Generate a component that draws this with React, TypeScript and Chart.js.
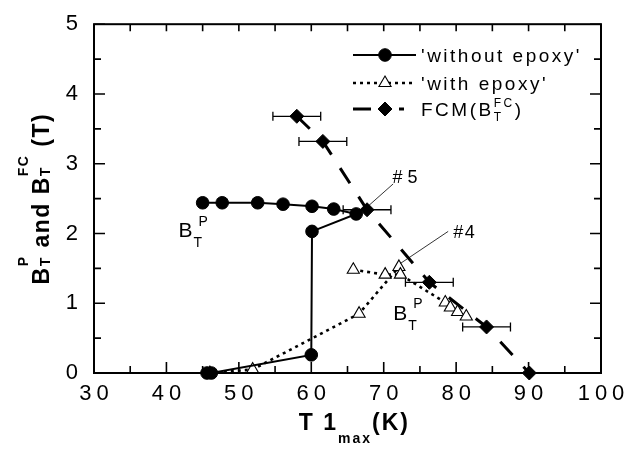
import React, { useEffect, useRef } from "react";
import { Chart, registerables } from "chart.js";

Chart.register(...registerables);

// ---------------- data ----------------
// 'without epoxy' (filled circles, solid line), in plotting order
const withoutEpoxyT = [45.0, 47.7, 52.6, 56.1, 60.1, 63.1, 66.2, 60.1, 60.0, 46.2, 45.6];
const withoutEpoxyB = [2.44, 2.44, 2.44, 2.42, 2.39, 2.35, 2.28, 2.03, 0.26, 0.0, 0.0];

// 'with epoxy' (open triangles, dotted line) – two branches
const withEpoxyT1 = [65.8, 70.2, 72.3, 78.5, 79.2, 80.2, 81.4];
const withEpoxyB1 = [1.48, 1.41, 1.41, 1.01, 0.94, 0.875, 0.81];
const withEpoxyT2 = [46.0, 51.9, 66.6, 72.1];
const withEpoxyB2 = [0.0, 0.05, 0.85, 1.52];

// FCM(B_T^FC) (filled diamonds, long dashed line) with horizontal error bars
const fcmT = [58.0, 61.6, 67.7, 76.3, 84.2, 90.1];
const fcmB = [3.68, 3.32, 2.34, 1.3, 0.66, 0.0];
const fcmErr = [3.3, 3.3, 3.3, 3.3, 3.3, 0];

// axis ticks
const xTickValues = [30, 40, 50, 60, 70, 80, 90, 100];
const xMinorTicks = [35, 45, 55, 65, 75, 85, 95];
const yTickValues = [0, 1, 2, 3, 4, 5];
const yMinorTicks = [0.5, 1.5, 2.5, 3.5, 4.5];

// annotations
const labelBP = [
  { x: 41.66, y: 1.944 },
  { x: 71.31, y: 0.764 },
];
const sampleMarks = [
  { text: "# 5", from: { x: 67.5, y: 2.36 }, to: { x: 71.3, y: 2.71 }, at: { x: 71.2, y: 2.72 } },
  { text: "#4", from: { x: 72.3, y: 1.57 }, to: { x: 78.9, y: 2.03 }, at: { x: 79.6, y: 1.93 } },
];

const FAMILY = "'Liberation Sans', Arial, Helvetica, sans-serif";

type Run =
  | { text: string; size: number; dy?: number }
  | { stack: true; size: number; sub?: string; sup?: string; subDy: number; supDy: number; subDx?: number; supDx?: number };

function rich(ctx: CanvasRenderingContext2D, x: number, y: number, runs: Run[], weight: string, draw: boolean) {
  let cx = x;
  for (const r of runs) {
    ctx.font = `${weight} ${r.size}px ${FAMILY}`;
    if ("stack" in r) {
      let w = 0;
      if (r.sub) {
        const dx = r.subDx || 0;
        if (draw) ctx.fillText(r.sub, cx + dx, y + r.subDy);
        w = Math.max(w, ctx.measureText(r.sub).width + dx);
      }
      if (r.sup) {
        const dx = r.supDx || 0;
        if (draw) ctx.fillText(r.sup, cx + dx, y + r.supDy);
        w = Math.max(w, ctx.measureText(r.sup).width + dx);
      }
      cx += w;
    } else {
      if (draw) ctx.fillText(r.text, cx, y + (r.dy || 0));
      cx += ctx.measureText(r.text).width;
    }
  }
  return cx - x;
}

function drawMarker(ctx: CanvasRenderingContext2D, d: any, x: number, y: number) {
  ctx.save();
  ctx.fillStyle = d.pointBackgroundColor;
  ctx.strokeStyle = d.pointBorderColor;
  ctx.lineWidth = d.pointBorderWidth;
  ctx.setLineDash([]);
  const r = d.pointRadius;
  ctx.beginPath();
  if (d.pointStyle === "circle") {
    ctx.arc(x, y, r, 0, Math.PI * 2);
  } else if (d.pointStyle === "triangle") {
    ctx.moveTo(x, y - r);
    ctx.lineTo(x + (Math.sqrt(3) / 2) * r, y + r / 2);
    ctx.lineTo(x - (Math.sqrt(3) / 2) * r, y + r / 2);
    ctx.closePath();
  } else {
    ctx.moveTo(x, y - r);
    ctx.lineTo(x + r, y);
    ctx.lineTo(x, y + r);
    ctx.lineTo(x - r, y);
    ctx.closePath();
  }
  ctx.fill();
  ctx.stroke();
  ctx.restore();
}

const customPlugin = {
  id: "custom",
  beforeDraw(chart: any) {
    (chart.ctx as any).letterSpacing = "5px";
  },
  beforeDatasetsDraw(chart: any) {
    const ctx: CanvasRenderingContext2D = chart.ctx;
    const xs = chart.scales.x;
    const ys = chart.scales.y;
    ctx.save();
    ctx.strokeStyle = "#000";
    ctx.lineWidth = 1.3;
    fcmT.forEach((t, i) => {
      const e = fcmErr[i];
      if (!e) return;
      const y = ys.getPixelForValue(fcmB[i]);
      const x1 = xs.getPixelForValue(t - e);
      const x2 = xs.getPixelForValue(t + e);
      ctx.beginPath();
      ctx.moveTo(x1, y);
      ctx.lineTo(x2, y);
      ctx.moveTo(x1, y - 4.5);
      ctx.lineTo(x1, y + 4.5);
      ctx.moveTo(x2, y - 4.5);
      ctx.lineTo(x2, y + 4.5);
      ctx.stroke();
    });
    ctx.restore();
  },
  afterDatasetsDraw(chart: any) {
    const ctx: CanvasRenderingContext2D = chart.ctx;
    const xs = chart.scales.x;
    const ys = chart.scales.y;
    ctx.save();
    (ctx as any).letterSpacing = "0px";
    ctx.fillStyle = "#000";
    ctx.strokeStyle = "#000";
    ctx.textAlign = "left";
    ctx.textBaseline = "alphabetic";
    labelBP.forEach((p) => {
      const x = xs.getPixelForValue(p.x);
      const y = ys.getPixelForValue(p.y);
      rich(
        ctx,
        x,
        y,
        [
          { text: "B", size: 21 },
          { stack: true, size: 14, sub: "T", sup: "P", subDy: 10, supDy: -11.5, subDx: 1, supDx: 6 },
        ],
        "normal",
        true
      );
    });
    sampleMarks.forEach((m) => {
      ctx.lineWidth = 0.8;
      ctx.beginPath();
      ctx.moveTo(xs.getPixelForValue(m.from.x), ys.getPixelForValue(m.from.y));
      ctx.lineTo(xs.getPixelForValue(m.to.x), ys.getPixelForValue(m.to.y));
      ctx.stroke();
      ctx.font = `normal 18px ${FAMILY}`;
      (ctx as any).letterSpacing = m.text === "#4" ? "1.5px" : "0px";
      ctx.fillText(m.text, xs.getPixelForValue(m.at.x), ys.getPixelForValue(m.at.y));
      (ctx as any).letterSpacing = "0px";
    });
    ctx.restore();
  },
  afterDraw(chart: any) {
    const ctx: CanvasRenderingContext2D = chart.ctx;
    const xs = chart.scales.x;
    const ys = chart.scales.y;
    const { left, right, top, bottom } = chart.chartArea;
    ctx.save();
    (ctx as any).letterSpacing = "0px";
    ctx.strokeStyle = "#000";
    ctx.fillStyle = "#000";
    // inward ticks on all four sides
    ctx.lineWidth = 1.6;
    ctx.beginPath();
    const xAll = [...xTickValues.map((v) => [v, 1]), ...xMinorTicks.map((v) => [v, 0])];
    xAll.forEach(([v, maj]) => {
      const x = xs.getPixelForValue(v);
      const len = maj ? 11 : 7;
      ctx.moveTo(x, bottom);
      ctx.lineTo(x, bottom - len);
      ctx.moveTo(x, top);
      ctx.lineTo(x, top + 7);
    });
    const yAll = [...yTickValues.map((v) => [v, 1]), ...yMinorTicks.map((v) => [v, 0])];
    yAll.forEach(([v, maj]) => {
      const y = ys.getPixelForValue(v);
      const len = maj ? 11 : 7;
      ctx.moveTo(left, y);
      ctx.lineTo(left + len, y);
      ctx.moveTo(right, y);
      ctx.lineTo(right - len, y);
    });
    ctx.stroke();
    ctx.lineWidth = 2;
    ctx.strokeRect(left, top, right - left, bottom - top);

    ctx.textAlign = "left";
    ctx.textBaseline = "alphabetic";

    // x title: T 1_max (K)
    (ctx as any).letterSpacing = "2px";
    const xRuns: Run[] = [
      { text: "T 1", size: 23 },
      { text: "max", size: 14, dy: 13 },
      { text: "(K)", size: 23 },
    ];
    const wx = rich(ctx, 0, 0, xRuns, "bold", false);
    rich(ctx, 410 - wx, 430, xRuns, "bold", true);

    // y title: B_T^P and B_T^FC (T)
    (ctx as any).letterSpacing = "1.5px";
    const yRuns: Run[] = [
      { text: "B", size: 23 },
      { stack: true, size: 14, sub: "T", sup: "P", subDy: 1, supDy: -21 },
      { text: " and ", size: 23 },
      { text: "B", size: 23 },
      { stack: true, size: 14, sub: "T", sup: "FC", subDy: 1, supDy: -21 },
      { text: " (T)", size: 23 },
    ];
    const wy = rich(ctx, 0, 0, yRuns, "bold", false);
    ctx.save();
    ctx.translate(49, (top + bottom) / 2 + wy / 2);
    ctx.rotate(-Math.PI / 2);
    rich(ctx, 0, 0, yRuns, "bold", true);
    ctx.restore();

    // legend
    const ds = chart.data.datasets;
    const lx1 = 353;
    const lx2 = 416;
    const lxm = 385;
    const rows = [
      { y: 55, d: ds[0], label: "'without epoxy'" },
      { y: 83, d: ds[1], label: "'with epoxy'" },
      { y: 109, d: ds[3], label: null as string | null },
    ];
    rows.forEach((r, i) => {
      ctx.save();
      (ctx as any).letterSpacing = "0px";
      ctx.strokeStyle = "#000";
      ctx.lineWidth = r.d.borderWidth;
      ctx.beginPath();
      if (i === 2) {
        ctx.moveTo(lx1, r.y);
        ctx.lineTo(lx1 + 18, r.y);
        ctx.moveTo(lxm + 14, r.y);
        ctx.lineTo(lxm + 19, r.y);
      } else {
        ctx.setLineDash(r.d.borderDash || []);
        ctx.moveTo(lx1, r.y);
        ctx.lineTo(lx2, r.y);
      }
      ctx.stroke();
      ctx.restore();
      drawMarker(ctx, r.d, lxm, r.y);
      (ctx as any).letterSpacing = "2.5px";
      ctx.font = `normal 19px ${FAMILY}`;
      const ty = r.y + 7;
      if (r.label) {
        ctx.fillText(r.label, 421, ty);
      } else {
        rich(
          ctx,
          421,
          ty,
          [
            { text: "FCM(B", size: 19 },
            { stack: true, size: 12, sub: "T", sup: "FC", subDy: 5, supDy: -9 },
            { text: ")", size: 19 },
          ],
          "normal",
          true
        );
      }
    });
    ctx.restore();
  },
};

function pts(xs: number[], ys: number[]) {
  return xs.map((x, i) => ({ x, y: ys[i] }));
}

export default function App() {
  const ref = useRef<HTMLCanvasElement | null>(null);
  useEffect(() => {
    document.body.style.margin = "0";
    const canvas = ref.current;
    if (!canvas) return;
    const triStyle = {
      showLine: true,
      borderColor: "#000",
      borderWidth: 2.6,
      borderDash: [3, 4],
      pointStyle: "triangle",
      pointRadius: 7,
      pointBackgroundColor: "#fff",
      pointBorderColor: "#000",
      pointBorderWidth: 1.1,
      clip: false as any,
    };
    const chart = new Chart(canvas, {
      type: "scatter",
      data: {
        datasets: [
          {
            label: "'without epoxy'",
            data: pts(withoutEpoxyT, withoutEpoxyB),
            showLine: true,
            borderColor: "#000",
            borderWidth: 2,
            pointStyle: "circle",
            pointRadius: 6.3,
            pointBackgroundColor: "#000",
            pointBorderColor: "#000",
            pointBorderWidth: 1,
            clip: false as any,
          },
          { label: "'with epoxy'", data: pts(withEpoxyT1, withEpoxyB1), ...triStyle },
          { label: "'with epoxy' (b)", data: pts(withEpoxyT2, withEpoxyB2), ...triStyle },
          {
            label: "FCM(B_T^FC)",
            data: pts(fcmT, fcmB),
            showLine: true,
            borderColor: "#000",
            borderWidth: 3,
            borderDash: [18, 16],
            pointStyle: "rectRot",
            pointRadius: 7,
            pointBackgroundColor: "#000",
            pointBorderColor: "#000",
            pointBorderWidth: 1,
            clip: false as any,
          },
        ] as any,
      },
      options: {
        animation: false,
        responsive: false,
        events: [],
        layout: { padding: { top: 13, right: 37, left: 0, bottom: 0 } },
        plugins: { legend: { display: false }, tooltip: { enabled: false } },
        scales: {
          x: {
            type: "linear",
            min: 30,
            max: 100,
            afterBuildTicks: (s: any) => {
              s.ticks = xTickValues.map((v) => ({ value: v }));
            },
            afterFit: (s: any) => {
              s.height = 77;
            },
            grid: { display: false, drawTicks: false },
            border: { display: false },
            ticks: {
              font: { family: FAMILY, size: 22 },
              color: "#000",
              padding: 8,
              labelOffset: 2.5,
              maxRotation: 0,
              autoSkip: false,
            },
          },
          y: {
            type: "linear",
            min: 0,
            max: 5,
            afterBuildTicks: (s: any) => {
              s.ticks = yTickValues.map((v) => ({ value: v }));
            },
            afterFit: (s: any) => {
              s.width = 94;
            },
            grid: { display: false, drawTicks: false },
            border: { display: false },
            ticks: {
              font: { family: FAMILY, size: 22 },
              color: "#000",
              padding: 11,
            },
          },
        },
      } as any,
      plugins: [customPlugin as any],
    });
    return () => chart.destroy();
  }, []);
  return <canvas ref={ref} width={638} height={450} style={{ display: "block" }} />;
}
